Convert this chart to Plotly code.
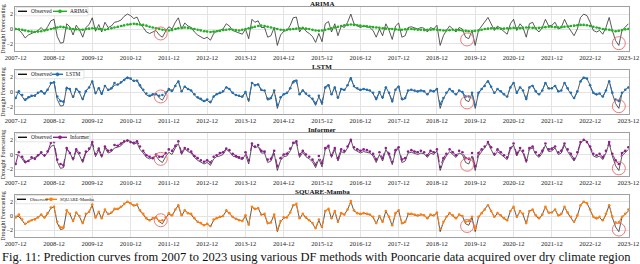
import pandas as pd
import plotly.graph_objects as go

# ---------------- data ----------------
start_month = "2007-12-01"
end_month = "2023-12-01"
tick_labels = ["2007-12", "2008-12", "2009-12", "2010-12", "2011-12", "2012-12", "2013-12", "2014-12",
               "2015-12", "2016-12", "2017-12", "2018-12", "2019-12", "2020-12", "2021-12", "2022-12", "2023-12"]
model_names = ["ARIMA", "LSTM", "Informer", "SQUARE-Mamba"]

observed = [
    0.0, -0.1, -0.6, -1.2, -0.8, -0.6, -0.5, -0.2, 0.2, -0.3, 0.3, 1.1,
    1.3, -1.0, -1.9, -1.8, 0.7, 0.3, -0.8, 0.5, -0.1, -1.1, 0.2, 0.6,
    1.5, -0.3, 0.6, -0.4, 0.9, 0.2, 0.4, 0.9, 1.0, 1.2, 1.7, 2.0,
    1.8, 1.4, 1.6, 0.7, 0.2, -0.4, -0.6, -0.4, -0.2, -0.8, -1.1, -0.3,
    0.3, 0.0, 0.9, 1.5, 0.0, 0.8, 0.4, 0.2, -0.4, -0.8, -1.0, -1.3,
    -1.1, -1.5, -0.6, -0.3, -0.2, 0.0, 0.7, 0.4, -0.2, -0.4, -0.6, -0.7,
    0.0, -1.3, 1.3, 0.9, 1.1, 0.2, 0.2, -1.1, -0.9, 0.2, -2.2, -0.8,
    -0.3, -0.2, 0.5, 1.5, 1.6, -0.4, 0.3, -0.3, -0.6, -1.0, -1.8, -0.6,
    -1.7, 0.7, 1.0, -0.4, 0.7, -0.9, 0.4, 0.2, 0.9, 2.0, 0.7, 0.4,
    0.2, 0.4, 0.3, 0.2, -0.2, -1.1, 0.0, -0.9, 0.7, -0.2, -1.4, 0.4,
    0.8, -1.1, -0.9, 0.2, 0.3, 0.2, 0.0, 0.2, 0.1, -0.4, 0.2, 0.0,
    0.5, -2.2, -0.9, -0.2, 0.4, 0.0, -0.4, 0.2, 0.0, -1.1, -1.3, -0.2,
    -2.2, -0.2, 0.4, 0.9, 1.55, 0.7, -0.2, 0.4, 0.0, -0.4, -0.7, 0.7,
    1.3, -0.2, 0.7, 0.2, -1.1, 0.7, 0.9, 0.0, -0.4, 0.2, 1.3, 0.4,
    0.5, 0.9, 0.0, 0.2, 1.3, 0.4, -0.2, -0.9, 0.0, 1.55, 2.0, 1.8,
    0.9, -0.2, -0.4, -0.2, -0.7, 0.2, 1.55, -0.2, -1.55, -2.2, -0.2, 0.2, 0.7,
]

arima = [
    0.0, -0.05, -0.1, -0.2, -0.3, -0.35, -0.4, -0.35, -0.3, -0.2, -0.1, 0.0,
    0.1, 0.2, 0.3, 0.25, 0.15, 0.05, 0.0, -0.05, -0.1, -0.1, 0.0, 0.05,
    0.1, 0.05, 0.0, -0.05, -0.1, 0.0, 0.1, 0.2, 0.3, 0.4, 0.5, 0.6,
    0.65, 0.7, 0.65, 0.6, 0.55, 0.45, 0.3, 0.2, 0.1, 0.0, -0.1, -0.15,
    -0.2, -0.15, 0.0, 0.1, 0.15, 0.2, 0.15, 0.1, 0.0, -0.1, -0.2, -0.3,
    -0.35, -0.4, -0.35, -0.3, -0.25, -0.15, -0.1, -0.05, -0.1, -0.15, -0.2, -0.1,
    0.0, 0.1, 0.2, 0.3, 0.4, 0.45, 0.4, 0.3, 0.2, 0.1, 0.0, -0.1,
    -0.15, -0.1, -0.05, 0.0, 0.05, 0.1, 0.1, 0.05, 0.0, -0.1, -0.2, -0.25,
    -0.2, -0.1, 0.0, 0.1, 0.2, 0.3, 0.4, 0.5, 0.55, 0.6, 0.55, 0.5,
    0.45, 0.4, 0.35, 0.3, 0.25, 0.2, 0.15, 0.1, 0.05, 0.0, 0.0, -0.05,
    -0.1, -0.1, -0.05, 0.0, 0.0, -0.05, -0.1, -0.1, -0.15, -0.1, -0.1, -0.05,
    -0.1, -0.15, -0.2, -0.2, -0.15, -0.1, -0.1, -0.15, -0.2, -0.25, -0.3, -0.3,
    -0.25, -0.2, -0.1, 0.0, 0.05, 0.1, 0.1, 0.1, 0.05, 0.05, 0.1, 0.1,
    0.15, 0.1, 0.1, 0.15, 0.2, 0.2, 0.15, 0.1, 0.15, 0.2, 0.25, 0.3,
    0.3, 0.25, 0.2, 0.25, 0.3, 0.35, 0.4, 0.45, 0.5, 0.55, 0.55, 0.5,
    0.4, 0.3, 0.2, 0.1, 0.0, -0.05, -0.1, -0.2, -0.3, -0.25, -0.15, -0.05, 0.0,
]

lstm = [
    -0.8, 0.1, -0.4, -1.0, -0.7, -0.5, -0.5, -0.1, 0.1, -0.2, 0.3, 1.2,
    1.3, -0.6, -1.2, -1.3, 0.5, 0.4, -0.6, 0.4, 0.0, -0.9, 0.1, 0.6,
    1.4, -0.1, 0.5, -0.2, 0.8, 0.3, 0.5, 1.2, 1.0, 1.3, 1.6, 1.9,
    1.8, 1.5, 1.5, 0.9, 0.3, -0.2, -0.5, -0.3, -0.3, -0.5, -0.4, -0.1,
    0.4, 0.2, 0.8, 1.4, 0.1, 0.7, 0.4, 0.2, -0.3, -0.7, -0.9, -1.2,
    -1.0, -1.3, -0.6, -0.3, -0.1, 0.1, 0.6, 0.4, -0.1, -0.4, -0.5, -0.6,
    0.0, -1.0, 1.2, 0.9, 1.0, 0.3, 0.2, -0.9, -0.8, 0.2, -1.7, -0.7,
    -0.3, -0.1, 0.5, 1.3, 1.5, -0.3, 0.2, -0.2, -0.5, -0.9, -1.5, -0.5,
    -1.4, 0.6, 0.9, -0.3, 0.6, -0.7, 0.4, 0.3, 0.9, 1.8, 0.8, 0.5,
    0.3, 0.4, 0.3, 0.2, -0.1, -0.9, 0.0, -0.7, 0.6, -0.1, -1.2, 0.3,
    0.7, -0.9, -0.8, 0.2, 0.3, 0.2, 0.1, 0.2, 0.1, -0.3, 0.2, 0.1,
    0.4, -1.6, -0.8, -0.1, 0.4, 0.1, -0.3, 0.2, 0.0, -0.6, -0.6, -0.1,
    -1.7, -0.1, 0.4, 0.8, 1.4, 0.7, -0.1, 0.4, 0.1, -0.3, -0.6, 0.6,
    1.2, -0.1, 0.6, 0.2, -0.9, 0.6, 0.8, 0.1, -0.3, 0.2, 1.2, 0.5,
    0.5, 0.8, 0.1, 0.2, 1.2, 0.5, -0.1, -0.8, 0.1, 1.4, 1.9, 1.8,
    0.9, -0.1, -0.3, -0.2, -0.6, 0.2, 1.4, -0.1, -1.0, -1.2, -0.1, 0.3, 0.6,
]

informer = [
    -1.3, 0.3, -0.3, -1.0, -0.9, -0.4, -0.6, -0.1, 0.3, -0.1, 0.4, 1.6,
    1.7, -0.7, -1.3, -1.5, 0.9, 0.2, -0.5, 0.7, 0.2, -0.8, 0.4, 0.8,
    1.7, 0.1, 0.8, -0.1, 1.1, 0.5, 0.6, 1.3, 1.2, 1.5, 1.8, 1.9,
    1.7, 1.6, 1.8, 1.1, 0.5, -0.1, -0.3, -0.5, 0.0, -0.3, -0.3, 0.2,
    0.7, 0.5, 1.2, 1.8, 0.3, 0.9, 0.7, 0.4, -0.2, -0.5, -0.8, -1.0,
    -0.8, -1.1, -0.3, -0.1, 0.2, 0.3, 0.8, 0.6, 0.1, -0.2, -0.4, -0.5,
    0.3, -0.8, 1.5, 1.1, 1.3, 0.5, 0.4, -0.7, -0.6, 0.5, -1.6, -0.5,
    0.0, 0.1, 0.8, 1.6, 1.8, 0.0, 0.5, 0.0, -0.3, -0.7, -1.4, -0.2,
    -1.2, 0.9, 1.2, -0.1, 0.9, -0.5, 0.7, 0.5, 1.1, 2.0, 1.0, 0.7,
    0.5, 0.7, 0.6, 0.4, 0.1, -0.7, 0.3, -0.5, 0.9, 0.1, -1.0, 0.6,
    1.0, -0.7, -0.5, 0.4, 0.6, 0.4, 0.3, 0.5, 0.3, -0.1, 0.5, 0.3,
    0.7, -1.7, -0.5, 0.1, 0.7, 0.3, -0.1, 0.5, 0.3, -0.5, -0.6, 0.2,
    -1.6, 0.2, 0.7, 1.1, 1.7, 1.0, 0.1, 0.7, 0.3, -0.1, -0.4, 0.9,
    1.5, 0.1, 0.9, 0.5, -0.8, 0.9, 1.1, 0.3, -0.1, 0.5, 1.5, 0.7,
    0.8, 1.1, 0.3, 0.5, 1.5, 0.7, 0.1, -0.6, 0.3, 1.7, 2.0, 1.7,
    1.1, 0.1, -0.1, 0.1, -0.4, 0.5, 1.7, 0.1, -0.8, -1.3, 0.2, 0.5, 1.0,
]

square_mamba = [
    -0.2, 0.2, -0.5, -1.1, -0.8, -0.6, -0.5, -0.2, 0.2, -0.2, 0.4, 1.2,
    1.3, -0.8, -1.6, -1.6, 0.8, 0.3, -0.7, 0.5, 0.0, -1.0, 0.3, 0.6,
    1.6, -0.2, 0.6, -0.3, 0.9, 0.3, 0.5, 1.0, 1.0, 1.3, 1.7, 2.0,
    1.8, 1.5, 1.6, 0.8, 0.3, -0.3, -0.6, -0.3, -0.2, -0.7, -0.6, -0.2,
    0.4, 0.1, 0.9, 1.5, 0.1, 0.8, 0.4, 0.3, -0.3, -0.8, -1.0, -1.3,
    -1.1, -1.4, -0.5, -0.3, -0.1, 0.0, 0.8, 0.4, -0.1, -0.4, -0.6, -0.7,
    0.1, -1.2, 1.3, 1.0, 1.1, 0.2, 0.3, -1.0, -0.9, 0.2, -1.9, -0.7,
    -0.2, -0.2, 0.5, 1.5, 1.7, -0.3, 0.3, -0.2, -0.6, -1.0, -1.7, -0.5,
    -1.5, 0.7, 1.0, -0.3, 0.7, -0.8, 0.4, 0.2, 0.9, 2.1, 0.8, 0.4,
    0.3, 0.4, 0.3, 0.2, -0.1, -1.0, 0.0, -0.8, 0.7, -0.1, -1.3, 0.4,
    0.8, -1.0, -0.8, 0.3, 0.3, 0.2, 0.1, 0.2, 0.1, -0.3, 0.2, 0.1,
    0.5, -1.8, -0.8, -0.1, 0.4, 0.1, -0.3, 0.2, 0.0, -0.8, -0.7, -0.1,
    -1.8, -0.1, 0.4, 0.9, 1.5, 0.7, -0.1, 0.4, 0.1, -0.3, -0.6, 0.7,
    1.3, -0.1, 0.7, 0.3, -1.0, 0.7, 0.9, 0.1, -0.3, 0.2, 1.3, 0.5,
    0.5, 0.9, 0.1, 0.3, 1.3, 0.5, -0.1, -0.8, 0.1, 1.5, 2.0, 1.8,
    0.9, -0.1, -0.3, -0.1, -0.6, 0.3, 1.5, -0.1, -0.9, -0.9, -0.1, 0.3, 0.9,
]

# highlighted (circled) events
highlight_months = ["2011-09-15", "2019-09-15", "2023-09-01"]
highlight_values = [-0.6, -1.4, -1.9]

observed_label = "Observed"
caption = ("Fig. 11: Prediction curves from 2007 to 2023 using various DF methods "
           "with Pooncarie data acquired over dry climate region")

# ---------------- styling / layout ----------------
predictions = [arima, lstm, informer, square_mamba]
colors = ["#22b022", "#1f6fb4", "#8e1e8e", "#ff7f0e"]
dashes = ["dot", "dash", "dash", "dash"]
W, H = 640, 264
x_left, x_right = 15, 629
panel_px = [(7, 51), (70, 114), (133, 176), (195, 237)]
# legend geometry per panel (px): obs sample start/end, obs text x, pred sample start/end, pred text x, box end, font
legend_geom = [
    (18, 27, 29, 53, 67, 68, 88, 5.4),
    (18, 27, 29, 52, 63, 64, 84, 5.4),
    (18, 27, 29, 53, 67, 68, 90, 5.4),
    (17, 26, 28, 45, 57, 58, 91, 4.6),
]
serif = "Liberation Serif, Times New Roman, serif"

months = pd.date_range(start_month, end_month, freq="MS")
tick_vals = pd.to_datetime([t + "-01" for t in tick_labels])


def px_x(v):
    return v / W


def px_y(v):
    return 1 - v / H


fig = go.Figure()
annotations = []
shapes = []
for i, (name, pred, col, dsh) in enumerate(zip(model_names, predictions, colors, dashes)):
    k = i + 1
    xa = "x" if k == 1 else f"x{k}"
    ya = "y" if k == 1 else f"y{k}"
    fig.add_trace(go.Scatter(x=months, y=observed, mode="lines", name=observed_label,
                             line=dict(color="#303030", width=0.8), xaxis=xa, yaxis=ya, showlegend=False))
    fig.add_trace(go.Scatter(x=months, y=pred, mode="lines+markers", name=name,
                             line=dict(color=col, width=1.0, dash=dsh),
                             marker=dict(color=col, size=2.6),
                             xaxis=xa, yaxis=ya, showlegend=False))
    fig.add_trace(go.Scatter(x=pd.to_datetime(highlight_months), y=highlight_values, mode="markers",
                             marker=dict(symbol="circle-open", size=13, color="#e86a6a",
                                         line=dict(width=0.9, color="#e86a6a")),
                             showlegend=False, hoverinfo="skip", xaxis=xa, yaxis=ya))
    top, bot = panel_px[i]
    dom_y = [1 - bot / H, 1 - top / H]
    axis_common = dict(showline=True, mirror=True, linecolor="#a0a0a0", linewidth=0.8,
                       gridcolor="#e3e3e3", gridwidth=0.8, zeroline=False, ticks="", automargin=False)
    fig.layout[("xaxis" if k == 1 else f"xaxis{k}")] = dict(
        domain=[x_left / W, x_right / W], anchor=ya,
        range=[months[0] - pd.Timedelta(days=6), months[-1] + pd.Timedelta(days=6)],
        tickvals=tick_vals, ticktext=tick_labels,
        tickfont=dict(size=6.5, family=serif, color="#222"), **axis_common)
    fig.layout[("yaxis" if k == 1 else f"yaxis{k}")] = dict(
        domain=dom_y, anchor=xa, range=[-2.95, 2.95],
        tickvals=[-2, 0, 2], ticktext=["\u22122", "0", "2"],
        tickfont=dict(size=6, family=serif, color="#222"),
        title=dict(text="Drought Forecasting", font=dict(size=6, family=serif, color="#222"), standoff=2),
        **axis_common)

    # compact legend (box, samples, labels)
    o0, o1, otx, p0, p1, ptx, bend, fsz = legend_geom[i]
    ly = top + 4.3
    shapes.append(dict(type="rect", xref="paper", yref="paper", x0=px_x(x_left + 1), x1=px_x(bend),
                       y0=px_y(top + 8.8), y1=px_y(top + 0.6), fillcolor="rgba(255,255,255,0.9)",
                       line=dict(color="#d0d0d0", width=0.6), layer="above"))
    shapes.append(dict(type="line", xref="paper", yref="paper", x0=px_x(o0), x1=px_x(o1),
                       y0=px_y(ly), y1=px_y(ly), line=dict(color="#111", width=1.4), layer="above"))
    shapes.append(dict(type="line", xref="paper", yref="paper", x0=px_x(p0), x1=px_x(p1),
                       y0=px_y(ly), y1=px_y(ly), line=dict(color=col, width=1.4), layer="above"))
    cx = (p0 + p1) / 2
    shapes.append(dict(type="circle", xref="paper", yref="paper", x0=px_x(cx - 1.6), x1=px_x(cx + 1.6),
                       y0=px_y(ly + 1.6), y1=px_y(ly - 1.6), fillcolor=col, line=dict(color=col, width=0.5),
                       layer="above"))
    annotations.append(dict(text=observed_label, x=px_x(otx), y=px_y(ly), xref="paper", yref="paper",
                            showarrow=False, xanchor="left", yanchor="middle",
                            font=dict(size=fsz, family=serif, color="#111")))
    annotations.append(dict(text=name, x=px_x(ptx), y=px_y(ly), xref="paper", yref="paper",
                            showarrow=False, xanchor="left", yanchor="middle",
                            font=dict(size=fsz, family=serif, color="#111")))
    # panel title
    annotations.append(dict(text=f"<b>{name}</b>", x=(x_left + x_right) / 2 / W, y=px_y(top - 3.2),
                            xref="paper", yref="paper", showarrow=False, xanchor="center", yanchor="middle",
                            font=dict(size=7, family=serif, color="#111")))

annotations.append(dict(text=caption, x=0.0, y=px_y(257), xref="paper", yref="paper",
                        showarrow=False, xanchor="left", yanchor="middle",
                        font=dict(size=12.5, family=serif, color="#111")))

fig.update_layout(width=W, height=H, margin=dict(l=0, r=0, t=0, b=0, autoexpand=False),
                  paper_bgcolor="white", plot_bgcolor="white", annotations=annotations,
                  shapes=shapes, showlegend=False)
fig.write_html("out.html", config={"displayModeBar": False},
               post_script="document.body.style.margin='0px';document.body.style.padding='0px';")
